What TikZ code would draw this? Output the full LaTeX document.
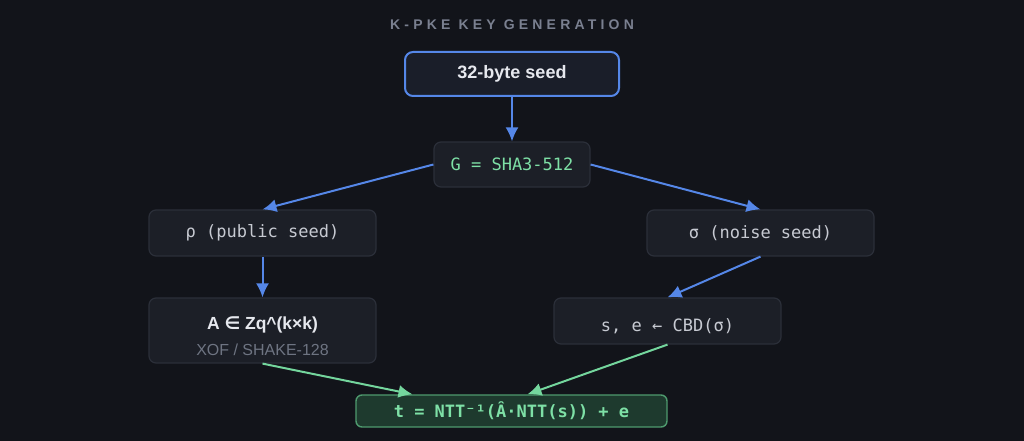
\documentclass[tikz,border=0pt]{standalone}
\usepackage{fontspec}
\setmainfont{Liberation Sans}
\newfontfamily\monof{DejaVu Sans Mono}
\newfontfamily\dvs{DejaVu Sans}
\newfontfamily\titlef[LetterSpace=30]{Liberation Sans}
\usetikzlibrary{arrows.meta,calc}
\definecolor{bgc}{HTML}{12141A}
\definecolor{boxf}{HTML}{1C1F27}
\definecolor{boxd}{HTML}{2B2F39}
\definecolor{seedf}{HTML}{1A1E29}
\definecolor{bluel}{HTML}{5587E8}
\definecolor{greenl}{HTML}{74D69D}
\definecolor{greent}{HTML}{7EE0A6}
\definecolor{resf}{HTML}{1E3A2E}
\definecolor{resd}{HTML}{4E9A6E}
\definecolor{txtw}{HTML}{E6E8EE}
\definecolor{txtg}{HTML}{C7CAD2}
\definecolor{txtdim}{HTML}{6E7482}
\definecolor{titlec}{HTML}{7A8090}
\begin{document}
\begin{tikzpicture}[x=1pt,y=-1pt,
  box/.style={draw=boxd,fill=boxf,line width=1.2pt,rounded corners=7pt,inner sep=0pt,minimum width=227pt,minimum height=46pt,align=center},
  seedbox/.style={draw=bluel,fill=seedf,line width=2pt,rounded corners=8pt,inner sep=0pt,minimum width=214pt,minimum height=44pt},
  resbox/.style={draw=resd,fill=resf,line width=1.4pt,rounded corners=6pt,inner sep=0pt,minimum width=311pt,minimum height=32pt},
  monot/.style={font=\monof\fontsize{17}{20}\selectfont,text=txtg},
  barrow/.style={draw=bluel,line width=2pt,-{Latex[length=14pt,width=13pt]}},
  garrow/.style={draw=greenl,line width=2pt,-{Latex[length=14pt,width=13pt]}}]
\fill[bgc] (0,0) rectangle (1024,441);
\useasboundingbox (0,0) rectangle (1024,441);
\node[text=titlec,font=\titlef\bfseries\fontsize{14}{16}\selectfont] (title) at (512,25) {K-PKE KEY GENERATION};
\node[seedbox,text=txtw,font=\bfseries\fontsize{18}{20}\selectfont] (seed) at (512,74) {32-byte seed};
\node[box,minimum width=156pt,minimum height=45pt,monot,text=greent] (G) at (512,164.5) {G = SHA3-512};
\node[box,monot] (rho) at (262.5,233) {ρ (public seed)};
\node[box,monot] (sig) at (760.5,233) {σ (noise seed)};
\node[box,minimum height=65pt] (A) at (262.5,330.5) {};
\node[text=txtw,font=\bfseries\fontsize{17.5}{20}\selectfont] (Al) at (262.5,325) {A {\dvs\bfseries ∈} Zq\^{}(k×k)};
\node[text=txtdim,font=\fontsize{16}{18}\selectfont] (As) at (262.5,350) {XOF / SHAKE-128};
\node[box,monot,text depth=0pt] (se) at (667.5,321) {};
\node[monot] (sel) at (667.5,326) {s, e ← CBD(σ)};
\node[resbox,text=greent,font=\monof\bfseries\fontsize{17}{20}\selectfont] (t) at (511.5,411) {t = NTT⁻¹(Â·NTT(s)) + e};
\draw[barrow] (seed.south) -- (G.north);
\draw[barrow] (G.west) -- (rho.north);
\draw[barrow] (G.east) -- (sig.north);
\draw[barrow] (rho.south) -- (A.north);
\draw[barrow] (sig.south) -- (se.north);
\draw[garrow] (A.south) -- ($(t.north)+(-99,0)$);
\draw[garrow] (se.south) -- ($(t.north)+(16,0)$);
\end{tikzpicture}
\end{document}
